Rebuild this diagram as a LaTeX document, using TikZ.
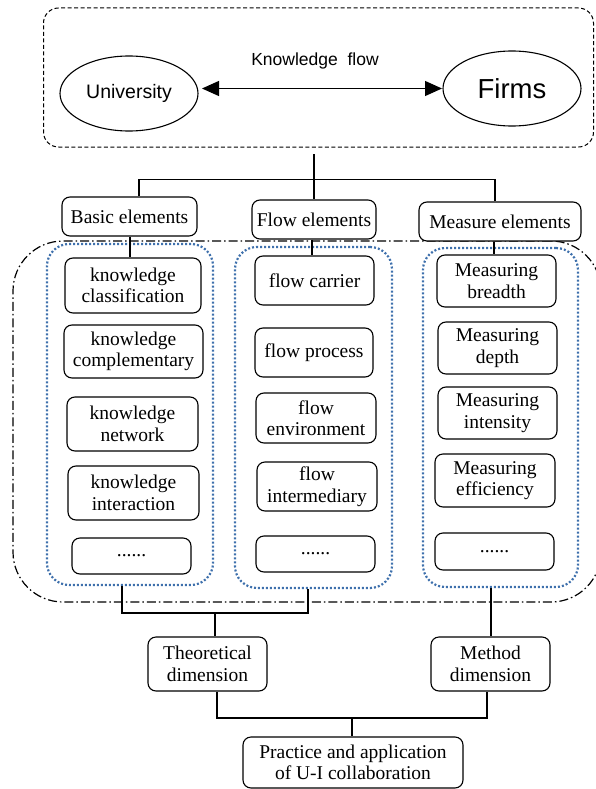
\documentclass[tikz,border=0pt]{standalone}
\usepackage{fontspec}
\setmainfont{Liberation Serif}
\setsansfont{Liberation Sans}
\usetikzlibrary{shapes.geometric,arrows.meta}
\definecolor{groupblue}{RGB}{62,112,172}
\tikzset{
  box/.style={draw, line width=1.1pt, rounded corners=8pt, fill=white, align=center,
    inner sep=0pt, font=\fontsize{19.5}{21.5}\selectfont},
  blob/.style={draw, ellipse, line width=1.1pt, inner sep=0pt, font=\sffamily},
  group/.style={draw=groupblue, line width=2.2pt, dash pattern=on 2pt off 2pt,
    rounded corners=22pt, inner sep=0pt},
  wire/.style={line width=1.1pt},
}
\begin{document}
\begin{tikzpicture}[x=1pt,y=-1pt]
\useasboundingbox (0,0) rectangle (595,789);

% outer frames
\node[draw, line width=1pt, dash pattern=on 4pt off 2.5pt, rounded corners=15pt,
  minimum width=550pt, minimum height=139pt, inner sep=0pt] (top) at (318.5,77.5) {};
\node[draw, line width=1.2pt, dash pattern=on 9pt off 3pt on 1.5pt off 3pt,
  rounded corners=50pt, minimum width=588pt, minimum height=361pt, inner sep=0pt]
  (frame) at (307,421.5) {};

% university -- firms
\node[blob, minimum width=138pt, minimum height=75pt, font=\sffamily\fontsize{19.5}{22}\selectfont]
  (uni) at (129,93.5) {University};
\node[blob, minimum width=138pt, minimum height=75pt, font=\sffamily\fontsize{27.5}{30}\selectfont]
  (firms) at (512,88.5) {Firms};
\coordinate (ua) at (202,88.5);
\coordinate (fa) at (442,88.5);
\draw[line width=1.2pt, {Triangle[length=17pt,width=15pt]}-{Triangle[length=17pt,width=15pt]}]
  (ua) -- (fa);
\node[font=\sffamily\fontsize{17.5}{20}\selectfont] (kf) at (315,61) {Knowledge\ \ flow};

% three groups
\node[group, minimum width=166pt, minimum height=341pt] (gL) at (130,414.5) {};
\node[group, minimum width=157pt, minimum height=341pt] (gM) at (313.5,417.5) {};
\node[group, minimum width=155pt, minimum height=339pt] (gR) at (500.5,417.5) {};

% element headings
\node[box, minimum width=135pt, minimum height=39pt] (basic) at (129.5,216.5) {Basic elements};
\node[box, minimum width=124pt, minimum height=39pt] (flowel) at (314,219.5) {Flow elements};
\node[box, minimum width=162pt, minimum height=39pt] (measel) at (500,221.5) {Measure elements};

% basic elements
\node[box, minimum width=136pt, minimum height=55pt] (k1) at (133,285.5) {knowledge\\classification};
\node[box, minimum width=139pt, minimum height=53pt] (k2) at (133.5,351.5) {knowledge\\complementary};
\node[box, minimum width=131pt, minimum height=54pt] (k3) at (132.5,424) {knowledge\\network};
\node[box, minimum width=131pt, minimum height=54pt] (k4) at (133.5,493) {knowledge\\interaction};
\node[box, minimum width=119pt, minimum height=36pt] (k5) at (131.5,556) {......};

% flow elements
\node[box, minimum width=119pt, minimum height=49pt] (f1) at (314.5,280.5) {flow carrier};
\node[box, minimum width=118pt, minimum height=49pt] (f2) at (314,352.5) {flow process};
\node[box, minimum width=120pt, minimum height=50pt] (f3) at (316,418) {flow\\environment};
\node[box, minimum width=120pt, minimum height=49pt] (f4) at (317,486.5) {flow\\intermediary};
\node[box, minimum width=119pt, minimum height=36pt] (f5) at (315.5,554) {......};

% measure elements
\node[box, minimum width=119pt, minimum height=52pt] (m1) at (496.5,281) {Measuring\\breadth};
\node[box, minimum width=119pt, minimum height=52pt] (m2) at (497.5,348) {Measuring\\depth};
\node[box, minimum width=119pt, minimum height=52pt] (m3) at (497.5,413) {Measuring\\intensity};
\node[box, minimum width=120pt, minimum height=53pt] (m4) at (495,480.5) {Measuring\\efficiency};
\node[box, minimum width=119pt, minimum height=37pt] (m5) at (494.5,551.5) {......};

% dimensions and application
\node[box, minimum width=119pt, minimum height=54pt] (theo) at (207.5,664) {Theoretical\\dimension};
\node[box, minimum width=119pt, minimum height=54pt] (meth) at (490.5,664) {Method\\dimension};
\node[box, minimum width=220pt, minimum height=51pt] (prac) at (353,762.5) {Practice and application\\of U-I collaboration};

% tree from the top frame to the headings
\coordinate (stub) at (314,154);
\coordinate (bus) at (314,179.5);
\draw[wire] (stub) -- (bus);
\draw[wire] (basic.north -| 139,0) |- (bus) -| (measel.north -| 495,0);
\draw[wire] (bus) -- (flowel.north -| bus);

% headings to first items
\draw[wire] (basic.south -| 130,0) -- (k1.north -| 130,0);
\draw[wire] (flowel.south -| 312,0) -- (f1.north -| 312,0);
\draw[wire] (measel.south -| 494,0) -- (m1.north -| 494,0);

% groups to dimensions
\coordinate (lowbus) at (215,613);
\draw[wire] (gL.south -| 122,0) |- (lowbus) -| (gM.south -| 308,0);
\draw[wire] (lowbus) -- (theo.north -| lowbus);
\draw[wire] (gR.south -| 491,0) -- (meth.north -| 491,0);

% dimensions to application
\coordinate (appbus) at (352,718);
\draw[wire] (theo.south -| 217,0) |- (appbus) -| (meth.south -| 487,0);
\draw[wire] (appbus) -- (prac.north -| appbus);
\end{tikzpicture}
\end{document}
